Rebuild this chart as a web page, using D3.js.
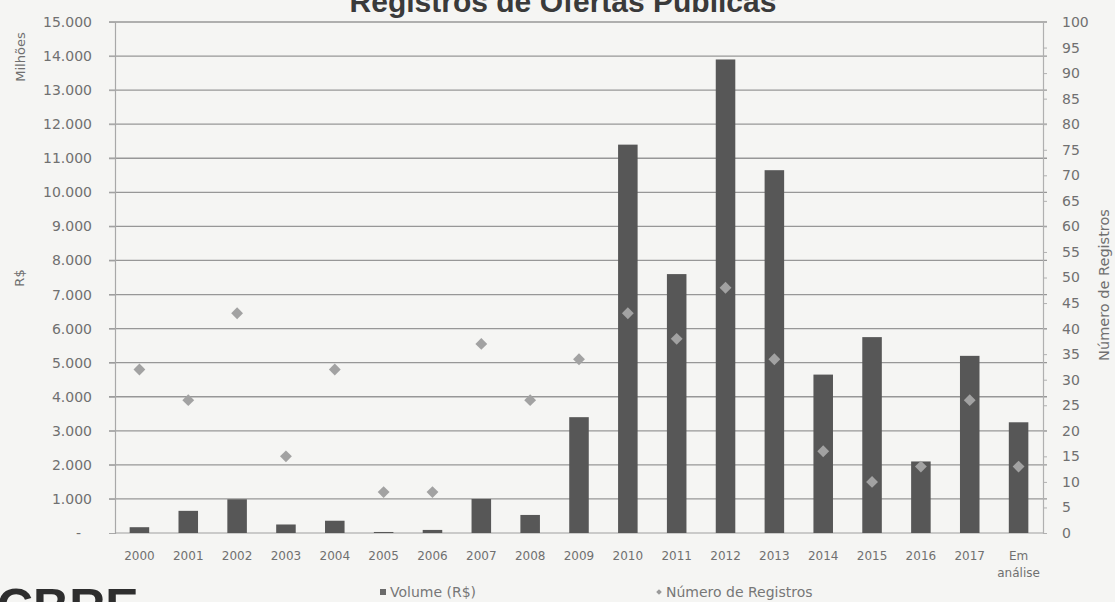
<!DOCTYPE html>
<html>
<head>
<meta charset="utf-8">
<script src="https://cdn.jsdelivr.net/npm/d3@7"></script>
<style>
  html, body { margin: 0; padding: 0; background: #f5f5f3; }
  svg { display: block; }
  text { font-family: "DejaVu Sans", Verdana, sans-serif; }
  text.arial { font-family: "Liberation Sans", Arial, sans-serif; }
</style>
</head>
<body>
<svg id="chart" width="1115" height="602"></svg>
<script>
// Anos (categorias do eixo X)
const categories = ["2000", "2001", "2002", "2003", "2004", "2005", "2006", "2007", "2008",
  "2009", "2010", "2011", "2012", "2013", "2014", "2015", "2016", "2017", "Em análise"];

// Volume registrado em R$ milhões
const volume = [170, 650, 990, 250, 360, 30, 90, 1000, 530, 3400, 11400, 7600, 13900,
  10650, 4650, 5750, 2100, 5200, 3250];

// Número de registros
const registros = [32, 26, 43, 15, 32, 8, 8, 37, 26, 34, 43, 38, 48, 34, 16, 10, 13, 26, 13];

// Ticks dos eixos
const leftTicks = d3.range(0, 15001, 1000);
const rightTicks = d3.range(0, 101, 5);

const svg = d3.select("#chart");
const plot = { left: 115, right: 1043, top: 22, bottom: 533 };
const grey = "#707070";

const ptBR = d3.formatLocale({ decimal: ",", thousands: ".", grouping: [3], currency: ["R$", ""] });
const fmt = ptBR.format(",d");

const x = d3.scaleBand().domain(categories).range([plot.left, plot.right]).paddingInner(0.6).paddingOuter(0.3);
const yL = d3.scaleLinear().domain([0, 15000]).range([plot.bottom, plot.top]);
const yR = d3.scaleLinear().domain([0, 100]).range([plot.bottom, plot.top]);

// Título
svg.append("text")
  .attr("class", "arial")
  .attr("x", 563).attr("y", 12)
  .attr("text-anchor", "middle")
  .attr("font-size", 30).attr("font-weight", "bold")
  .attr("fill", "#3a3a3a")
  .text("Registros de Ofertas Públicas");

// Linhas de grade
svg.append("g").selectAll("line").data(leftTicks.filter(d => d > 0)).join("line")
  .attr("x1", plot.left - 6).attr("x2", plot.right + 4)
  .attr("y1", d => yL(d)).attr("y2", d => yL(d))
  .attr("stroke", "#979797").attr("stroke-width", 1.3);

// Eixo esquerdo (R$ milhões)
const axL = svg.append("g").attr("transform", `translate(${plot.left},0)`)
  .call(d3.axisLeft(yL).tickValues(leftTicks).tickSize(6).tickPadding(17)
    .tickFormat(d => d === 0 ? "-" : fmt(d)));
axL.select(".domain").attr("stroke", "#a8a8a8").attr("stroke-width", 1.2);
axL.selectAll(".tick line").attr("stroke", "#a8a8a8");
axL.selectAll(".tick text").attr("font-size", 14).attr("fill", grey)
  .attr("dx", d => d === 0 ? -11 : 0);

// Eixo direito (número de registros)
const axR = svg.append("g").attr("transform", `translate(${plot.right},0)`)
  .call(d3.axisRight(yR).tickValues(rightTicks).tickSize(4).tickPadding(15));
axR.select(".domain").attr("stroke", "#b0b0b0").attr("stroke-width", 1.2);
axR.selectAll(".tick line").attr("stroke", "#b0b0b0");
axR.selectAll(".tick text").attr("font-size", 14).attr("fill", grey);

// Linha de base
svg.append("line")
  .attr("x1", plot.left).attr("x2", plot.right)
  .attr("y1", yL(0)).attr("y2", yL(0))
  .attr("stroke", "#a0a0a0").attr("stroke-width", 1.2);

// Barras de volume
svg.append("g").selectAll("rect").data(volume).join("rect")
  .attr("x", (d, i) => x(categories[i]))
  .attr("width", x.bandwidth())
  .attr("y", d => yL(d))
  .attr("height", d => yL(0) - yL(d))
  .attr("fill", "#575757");

// Marcadores de número de registros (losangos)
const marker = d3.symbol().type(d3.symbolSquare).size(70);
svg.append("g").selectAll("path").data(registros).join("path")
  .attr("d", marker)
  .attr("transform", (d, i) => `translate(${x(categories[i]) + x.bandwidth() / 2},${yR(d)}) rotate(45)`)
  .attr("fill", "#a2a2a2");

// Rótulos do eixo X
const xLab = svg.append("g");
categories.forEach((c, i) => {
  const cx = x(c) + x.bandwidth() / 2;
  c.split(" ").forEach((p, k) => {
    xLab.append("text")
      .attr("x", cx).attr("y", 560 + k * 17)
      .attr("text-anchor", "middle")
      .attr("font-size", 12).attr("fill", grey)
      .text(p);
  });
});

// Títulos dos eixos
svg.append("text")
  .attr("transform", "translate(25,57) rotate(-90)")
  .attr("text-anchor", "middle").attr("font-size", 13).attr("fill", grey)
  .text("Milhões");
svg.append("text")
  .attr("transform", "translate(24,278) rotate(-90)")
  .attr("text-anchor", "middle").attr("font-size", 13).attr("fill", grey)
  .text("R$");
svg.append("text")
  .attr("transform", "translate(1109,285) rotate(-90)")
  .attr("text-anchor", "middle").attr("font-size", 14.5).attr("fill", grey)
  .text("Número de Registros");

// Legenda
const legend = svg.append("g");
legend.append("rect").attr("x", 380).attr("y", 589).attr("width", 6).attr("height", 6).attr("fill", "#6a6a6a");
legend.append("text").attr("x", 390).attr("y", 597).attr("font-size", 14).attr("fill", "#777")
  .text("Volume (R$)");
legend.append("path").attr("d", d3.symbol().type(d3.symbolSquare).size(16))
  .attr("transform", "translate(659,592) rotate(45)").attr("fill", "#9a9a9a");
legend.append("text").attr("x", 666).attr("y", 597).attr("font-size", 14).attr("fill", "#777")
  .text("Número de Registros");

// Logotipo no rodapé
svg.append("text")
  .attr("class", "arial")
  .attr("x", -3).attr("y", 624)
  .attr("font-size", 50).attr("font-weight", "bold")
  .attr("fill", "#2e2e2e")
  .text("CBRE");
</script>
</body>
</html>
